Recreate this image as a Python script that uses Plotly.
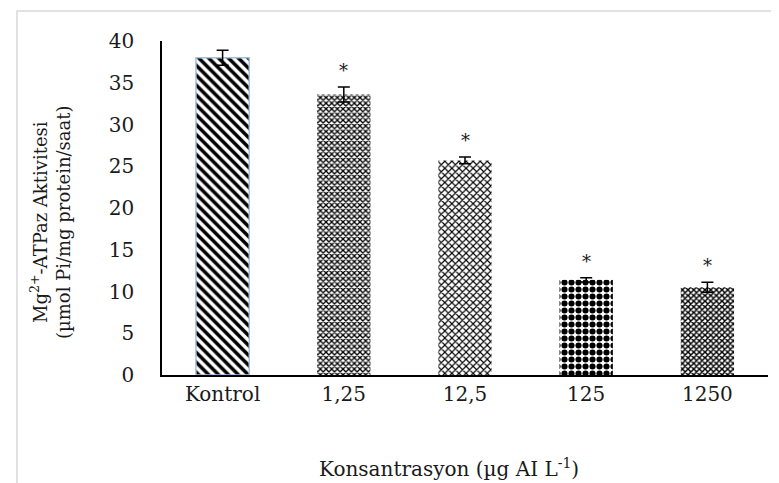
import plotly.graph_objects as go

categories = ["Kontrol", "1,25", "12,5", "125", "1250"]
values = [38.0, 33.6, 25.7, 11.4, 10.5]
errors = [0.9, 0.9, 0.4, 0.25, 0.6]
significant = [False, True, True, True, True]
y_ticks = [0, 5, 10, 15, 20, 25, 30, 35, 40]

shapes_ = ["\\", "x", "x", ".", "x"]
sizes_ = [7, 4, 5, 7, 4]
solid_ = [0.5, 0.55, 0.4, 0.6, 0.6]
line_cols = ["#a6c0de", "rgba(0,0,0,0)", "rgba(0,0,0,0)", "rgba(0,0,0,0)", "rgba(0,0,0,0)"]

FONT = "DejaVu Serif"
W, H = 779, 483
L, R, T, B = 154, 19, 33, 116
pw, ph = W - L - R, H - T - B

xpos = list(range(len(categories)))

fig = go.Figure()
fig.add_trace(go.Bar(
    x=xpos, y=values,
    error_y=dict(type="data", array=errors, color="black", thickness=1.5, width=6),
    marker=dict(
        color="white",
        line=dict(color=line_cols, width=1.5),
        pattern=dict(shape=shapes_, size=sizes_, solidity=solid_,
                     fgcolor="black", bgcolor="white", fillmode="replace"),
    ),
    showlegend=False,
))

annotations = []
for i, v, e, s in zip(xpos, values, errors, significant):
    if s:
        annotations.append(dict(x=i, y=v + e, xref="x", yref="y", text="*",
                                showarrow=False, yanchor="bottom", yshift=4,
                                font=dict(family=FONT, size=18, color="#1a1a1a")))

annotations.append(dict(
    xref="paper", yref="paper",
    x=(42 - L) / pw, y=(H - B - 214) / ph,
    text="Mg<sup>2+</sup>-ATPaz Aktivitesi<br>(µmol Pi/mg protein/saat)",
    textangle=-90, showarrow=False, xanchor="center", yanchor="middle",
    font=dict(family=FONT, size=18, color="#1a1a1a")))
annotations.append(dict(
    xref="paper", yref="paper",
    x=(441 - L) / pw, y=(H - B - 460) / ph,
    text="Konsantrasyon (µg AI L<sup>-1</sup>)",
    showarrow=False, xanchor="center", yanchor="middle",
    font=dict(family=FONT, size=20, color="#1a1a1a")))

fig.update_layout(
    width=W, height=H,
    margin=dict(l=L, r=R, t=T, b=B),
    paper_bgcolor="white", plot_bgcolor="white",
    bargap=0.56,
    font=dict(family=FONT, size=20, color="#1a1a1a"),
    annotations=annotations,
    shapes=[dict(type="rect", xref="paper", yref="paper",
                 x0=(9 - L) / pw, x1=(771 - L) / pw,
                 y0=(H - B - 477) / ph, y1=(H - B - 3) / ph,
                 line=dict(color="#d9d9d9", width=1.5), fillcolor="rgba(0,0,0,0)")],
)
fig.update_yaxes(range=[0, 40], tickvals=y_ticks, showgrid=False, zeroline=False,
                 showline=True, linecolor="black", linewidth=1.5,
                 ticks="", ticklabelstandoff=22)
fig.update_xaxes(range=[-0.5, len(categories) - 0.5], tickvals=xpos, ticktext=categories,
                 showgrid=False, showline=True, linecolor="black", linewidth=1.5,
                 zeroline=False, ticks="", ticklabelstandoff=0)

fig.write_html("out.html")
